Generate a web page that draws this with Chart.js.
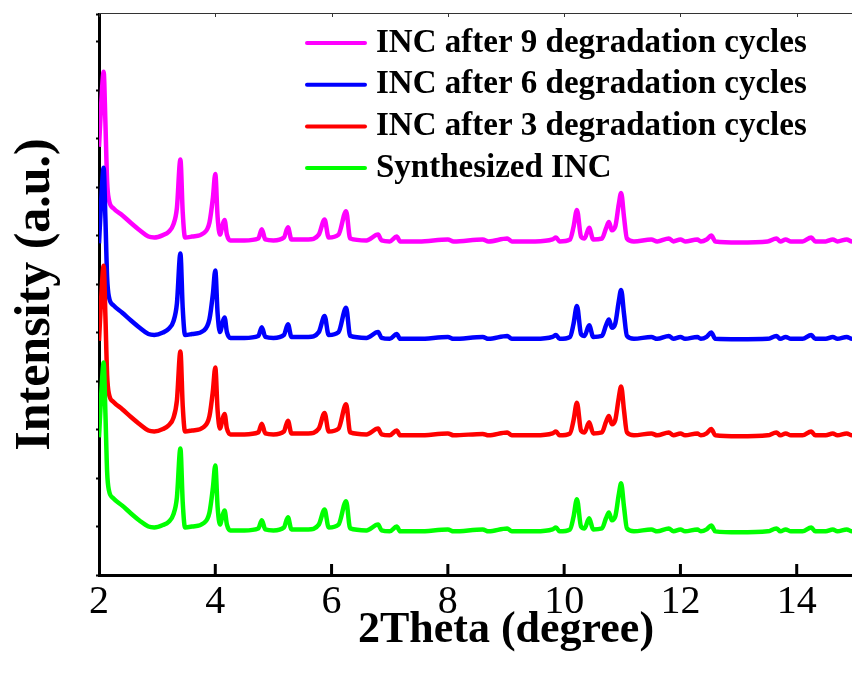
<!DOCTYPE html>
<html>
<head>
<meta charset="utf-8">
<script src="https://cdn.jsdelivr.net/npm/chart.js@4.4.1/dist/chart.umd.min.js"></script>
<style>
  html, body { margin: 0; padding: 0; overflow: hidden; background: #fff; }
  #wrap { position: relative; width: 940px; height: 673px; }
</style>
</head>
<body>
<div id="wrap"><canvas id="chart"></canvas></div>
<script>
const twoTheta = [2.00,2.04,2.08,2.11,2.14,2.17,2.25,2.40,2.55,2.70,2.85,2.95,3.10,3.20,3.28,3.34,3.40,3.44,3.48,3.60,3.80,3.90,
  3.96,4.00,4.04,4.08,4.13,4.16,4.20,4.26,4.50,4.74,4.80,4.86,5.00,5.18,5.25,5.31,5.60,5.78,5.88,5.95,
  6.12,6.25,6.32,6.60,6.80,6.86,7.00,7.12,7.18,7.50,8.00,8.10,8.60,8.70,9.02,9.10,9.50,9.80,9.86,9.92,
  10.10,10.16,10.22,10.29,10.35,10.43,10.50,10.65,10.72,10.77,10.82,10.88,10.94,10.98,11.03,11.08,11.20,11.50,11.60,11.80,
  11.88,12.00,12.08,12.29,12.35,12.45,12.53,12.60,13.00,13.50,13.65,13.72,13.81,13.90,14.10,14.25,14.32,14.50,14.62,14.70,
  14.86,14.95,15.30,15.60,16.00];

const synthesized = [284,376,438,335,212,175,158,143,127,112,100,98,103,110,125,160,261,150,98,100,107,129,
  181,226,140,104,125,133,104,92,92,96,113,94,92,98,119,94,94,104,135,98,
  104,152,96,92,104,92,90,100,90,90,94,90,94,90,96,90,90,94,98,90,
  94,119,156,100,96,117,94,96,117,129,113,121,166,189,140,96,90,94,90,96,
  90,94,90,94,90,94,102,90,88,90,96,90,94,90,90,98,90,90,94,90,
  94,90,90,91,90];

const after3 = [285,378,440,337,214,176,159,144,128,113,100,98,103,111,126,162,263,151,98,100,107,130,
  183,230,141,104,126,134,104,92,92,96,114,94,92,98,120,94,94,104,136,98,
  104,154,96,92,104,92,90,100,90,90,94,90,93,90,96,90,90,94,98,90,
  94,120,157,100,96,117,94,96,118,130,113,122,168,191,141,96,90,94,90,96,
  90,94,90,94,90,94,103,90,88,90,96,90,94,90,90,98,90,90,94,90,
  94,90,90,91,90];

const after6 = [286,380,442,338,215,176,158,143,127,112,99,97,102,110,125,162,265,152,97,99,106,130,
  183,230,141,103,125,133,103,91,91,95,113,93,91,97,119,93,93,103,136,97,
  103,153,95,91,103,91,89,99,89,89,93,89,93,89,95,89,89,93,97,89,
  93,119,157,99,95,117,93,95,117,129,112,121,167,190,140,95,89,93,89,95,
  89,93,89,93,89,93,102,89,88,89,95,89,93,89,89,97,89,89,93,89,
  93,89,89,90,89];

const after9 = [285,378,440,336,213,176,158,144,128,113,100,98,103,110,125,159,259,150,98,100,107,129,
  181,229,140,104,126,134,104,92,92,96,115,94,92,98,119,94,94,104,135,98,
  104,152,96,92,104,92,90,100,90,90,94,90,94,90,96,90,90,94,98,90,
  94,119,155,100,96,118,94,96,117,130,113,121,167,190,140,96,90,94,90,96,
  90,94,90,94,90,94,102,90,88,90,96,90,94,90,90,98,90,90,94,90,
  94,90,90,91,90];

const offsets = [0, 198, 398, 598];
const seriesLabels = ['Synthesized INC', 'INC after 3 degradation cycles', 'INC after 6 degradation cycles', 'INC after 9 degradation cycles'];
const seriesColors = ['#00ff00', '#ff0000', '#0000ff', '#ff00ff'];
const seriesValues = [synthesized, after3, after6, after9];

const serif = "'Liberation Serif', 'Times New Roman', serif";

// inner ticks, thin top frame and the legend block
const frame = {
  id: 'frame',
  afterDraw(c) {
    const { ctx, chartArea, scales: { x } } = c;
    ctx.save();
    ctx.strokeStyle = '#000';
    ctx.lineWidth = 3;
    x.ticks.forEach(t => {
      if (t.value === x.min) return;
      const px = x.getPixelForValue(t.value);
      ctx.beginPath();
      ctx.moveTo(px, chartArea.bottom);
      ctx.lineTo(px, chartArea.bottom - 11);
      ctx.stroke();
    });

    ctx.strokeStyle = '#333';
    ctx.lineWidth = 1;
    ctx.beginPath();
    ctx.moveTo(chartArea.left, chartArea.top - 0.5);
    ctx.lineTo(chartArea.right, chartArea.top - 0.5);
    ctx.stroke();
    x.ticks.forEach(t => {
      const px = Math.round(x.getPixelForValue(t.value)) + 0.5;
      ctx.beginPath();
      ctx.moveTo(px, chartArea.top);
      ctx.lineTo(px, chartArea.top + 3);
      ctx.stroke();
    });

    ctx.font = 'bold 33px ' + serif;
    ctx.textBaseline = 'middle';
    ctx.fillStyle = '#000';
    const order = [3, 2, 1, 0];
    order.forEach((k, row) => {
      const y = 43 + row * 41.7;
      ctx.strokeStyle = seriesColors[k];
      ctx.lineWidth = 4;
      ctx.lineCap = 'round';
      ctx.beginPath();
      ctx.moveTo(307, y);
      ctx.lineTo(365, y);
      ctx.stroke();
      ctx.fillText(seriesLabels[k], 376, y);
    });
    ctx.restore();
  }
};

const datasets = seriesValues.map((vals, k) => ({
  label: seriesLabels[k],
  data: twoTheta.map((t, i) => ({ x: t, y: vals[i] + offsets[k] })),
  borderColor: seriesColors[k],
  borderWidth: 4.5,
  pointRadius: 0,
  cubicInterpolationMode: 'monotone',
  borderJoinStyle: 'round',
  fill: false
}));

new Chart(document.getElementById('chart'), {
  type: 'line',
  data: { datasets },
  options: {
    responsive: true,
    maintainAspectRatio: false,
    animation: false,
    layout: { padding: { top: 14, right: 27, left: 0, bottom: 0 } },
    plugins: { legend: { display: false }, tooltip: { enabled: false } },
    scales: {
      x: {
        type: 'linear',
        min: 2,
        max: 16,
        ticks: { stepSize: 2, color: '#000', font: { family: serif, size: 40 }, padding: 3, maxRotation: 0 },
        grid: { drawOnChartArea: false, drawTicks: false },
        border: { width: 3, color: '#000' },
        title: { display: true, text: '2Theta (degree)', color: '#000', font: { family: serif, size: 44, weight: 'bold' }, padding: { top: 0, bottom: 16 } },
        afterFit(s) { s.height = 98; }
      },
      y: {
        min: 0,
        max: 1157,
        ticks: { display: false, stepSize: 100 },
        grid: { drawOnChartArea: false, drawTicks: true, tickLength: 3, tickWidth: 2, color: '#000' },
        border: { width: 3, color: '#000' },
        title: { display: true, text: 'Intensity (a.u.)', color: '#000', font: { family: serif, size: 50, weight: 'bold' }, padding: { top: 6, bottom: 0 } },
        afterFit(s) { s.width = 99; }
      }
    }
  },
  plugins: [frame]
});
</script>
</body>
</html>
